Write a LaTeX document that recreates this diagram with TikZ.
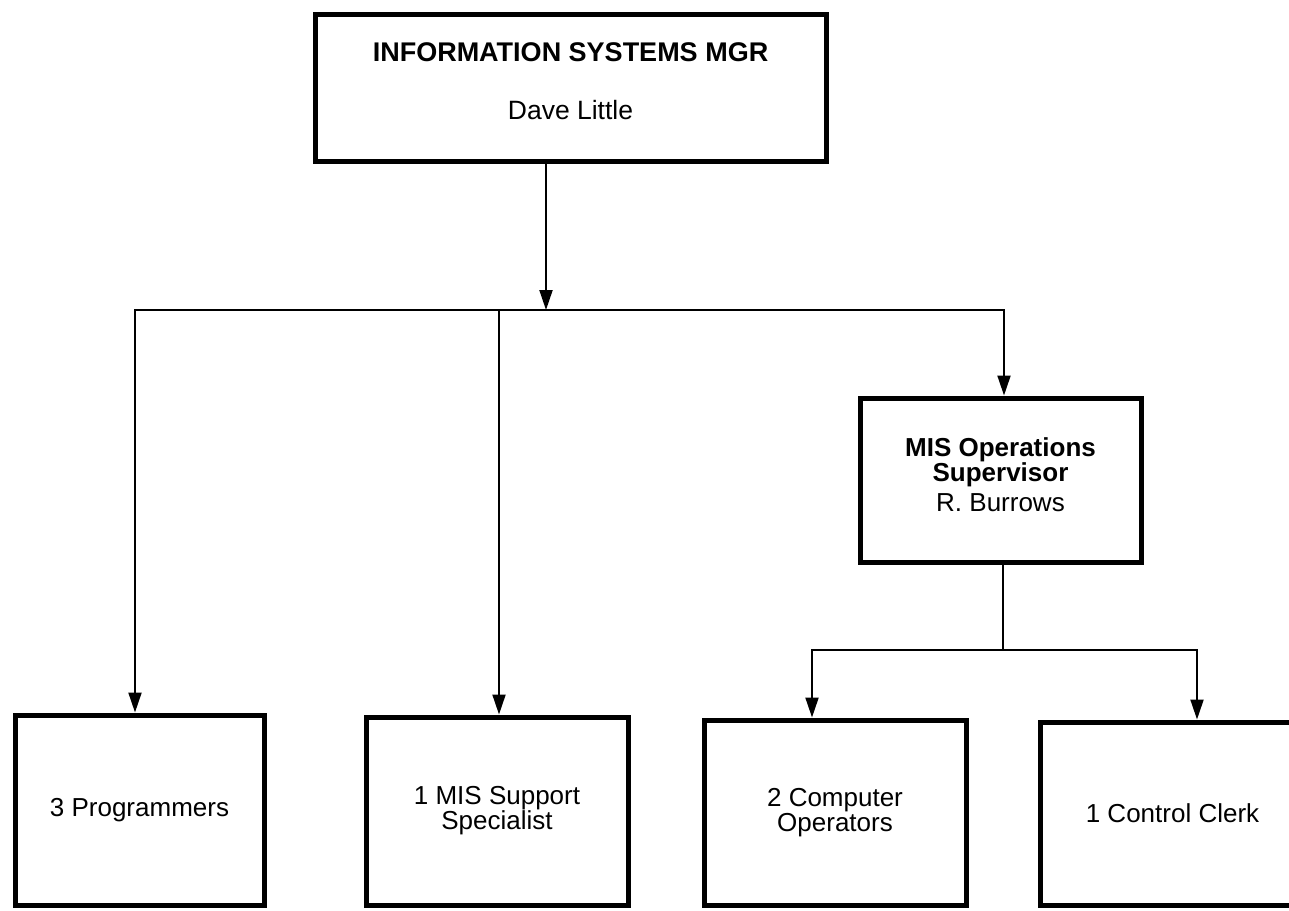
\documentclass[tikz,border=0pt]{standalone}
\usepackage{fontspec}
\setmainfont{Liberation Sans}
\usetikzlibrary{arrows.meta}
\begin{document}
\begin{tikzpicture}[x=1pt,y=-1pt,
  box/.style={draw, line width=5pt, rectangle, align=center, inner sep=0pt,
    font=\fontsize{26}{25}\selectfont},
  txt/.style={align=center, inner sep=0pt, font=\fontsize{26}{25}\selectfont},
  link/.style={line width=2pt, line cap=rect},
  arr/.style={line width=2pt, -{Triangle[length=20pt,width=13pt]}},
]
\path[use as bounding box, clip] (0,0) rectangle (1289,910);

% boxes
\node[box, minimum width=511, minimum height=147] (mgr) at (570.5,87.5) {};
\node[txt] (mgr-text) at ([yshift=6pt]mgr.center)
  {\textbf{\fontsize{27}{27}\selectfont INFORMATION SYSTEMS MGR}\\[33pt]{\fontsize{26.5}{25}\selectfont Dave Little}};
\node[box, minimum width=281, minimum height=164] (ops) at (1000.5,480) {};
\node[txt] (ops-text) at ([yshift=5pt]ops.center)
  {\textbf{MIS Operations}\\\textbf{Supervisor}\\[5pt]R. Burrows};
\node[box, minimum width=249, minimum height=190] (prog) at (139.5,810)
  {3 Programmers};
\node[box, minimum width=262, minimum height=188] (supp) at (497,811)
  {1 MIS Support\\Specialist};
\node[box, minimum width=262, minimum height=185] (comp) at (835,812.5)
  {2 Computer\\Operators};
\node[box, minimum width=265, minimum height=183] (clerk) at (1172.5,813.5)
  {1 Control Clerk};

% first-level distribution bar
\coordinate (hub)  at (546,310);
\coordinate (barL) at (135,310);
\coordinate (barM) at (499,310);
\coordinate (barR) at (1004,310);
\draw[arr] (mgr.south -| hub) -- (hub);
\draw[link] (barL) -- (barR);
\draw[arr] (barL) -- (barL |- prog.north);
\draw[arr] (barM) -- (barM |- supp.north);
\draw[arr] (barR) -- (barR |- ops.north);

% second-level distribution bar
\coordinate (sub)  at (1003,650);
\coordinate (subL) at (812,650);
\coordinate (subR) at (1197,650);
\draw[link] (ops.south -| sub) -- (sub);
\draw[link] (subL) -- (subR);
\draw[arr] (subL) -- (subL |- comp.north);
\draw[arr] (subR) -- (subR |- clerk.north);
\end{tikzpicture}
\end{document}
